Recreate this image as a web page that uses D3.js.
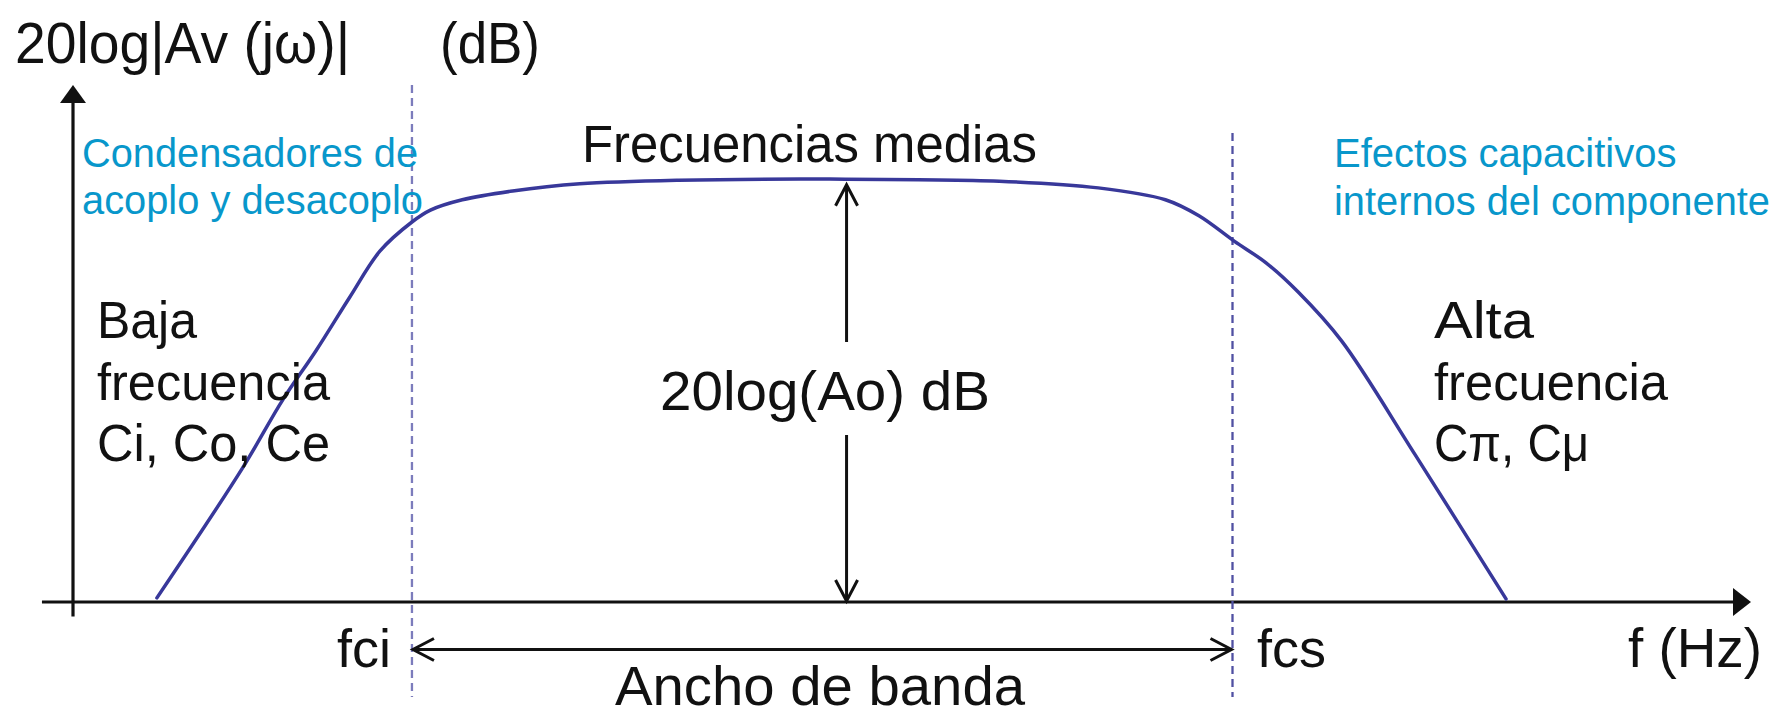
<!DOCTYPE html>
<html lang="es">
<head>
<meta charset="UTF-8">
<title>Respuesta en frecuencia de un amplificador</title>
<script src="https://d3js.org/d3.v7.min.js"></script>
<style>
  body { margin: 0; background: #fff; }
  text { font-family: "Liberation Sans", Arial, Helvetica, sans-serif; }
</style>
</head>
<body>
<script>

// size of the picture
var w = 1785;
var h = 718;

// Bode curve: log-frequency units (x) and gain units (y)
var freq = [0.50, 1.01, 1.25, 1.45, 1.65, 1.83, 2.02, 2.13, 2.32, 2.62, 3.02, 3.61, 4.51,
            5.52, 6.11, 6.51, 6.71, 6.92, 7.11, 7.30, 7.56, 8.00, 8.54];
var gain = [0.08, 2.59, 3.91, 4.87, 5.90, 6.79, 7.35, 7.58, 7.78, 7.95, 8.09, 8.16, 8.18,
            8.14, 8.01, 7.78, 7.47, 6.98, 6.56, 6.00, 5.05, 2.84, 0.06];

// cut-off frequencies
var cutoffFreq = [2.02, 6.91];
var cutoffLabels = ["fci", "fcs"];

// mid band arrow
var midFreq = 4.61;
var midGain = 8.07;

// labels
var yTitle = ["20log|Av (jω)|", "(dB)"];
var xTitle = "f (Hz)";
var lowLabel = ["Baja", "frecuencia", "Ci, Co, Ce"];
var highLabel = ["Alta", "frecuencia", "Cπ, Cμ"];
var lowNote = ["Condensadores de", "acoplo y desacoplo"];
var highNote = ["Efectos capacitivos", "internos del componente"];
var midLabel = "Frecuencias medias";
var gainLabel = "20log(Ao) dB";
var bandLabel = "Ancho de banda";

var xScale = d3.scaleLinear().domain([0, 10]).range([73, 1751]);
var yScale = d3.scaleLinear().domain([0, 10]).range([602, 85]);

var svg = d3.select("body")
    .append("svg")
    .attr("width", w)
    .attr("height", h);

svg.append("rect").attr("width", w).attr("height", h).attr("fill", "#fff");

var ink = "#111";
var blue = "#0897cb";
var curveColor = "#38389a";

//Axes
var x0 = xScale(0), y0 = yScale(0);
svg.append("line")
    .attr("x1", xScale(-0.185)).attr("y1", y0)
    .attr("x2", xScale(9.9)).attr("y2", y0)
    .attr("stroke", ink).attr("stroke-width", 3.2);
svg.append("path")
    .attr("d", d3.line()([[xScale(10), y0], [xScale(10) - 18, y0 - 14], [xScale(10) - 18, y0 + 14]]) + "Z")
    .attr("fill", ink);
svg.append("line")
    .attr("x1", x0).attr("y1", yScale(-0.28))
    .attr("x2", x0).attr("y2", yScale(9.8))
    .attr("stroke", ink).attr("stroke-width", 3.2);
svg.append("path")
    .attr("d", d3.line()([[x0, yScale(10)], [x0 - 13, yScale(10) + 18], [x0 + 13, yScale(10) + 18]]) + "Z")
    .attr("fill", ink);

//Cut-off dashed lines
var dashTop = [85, 133];
var dashColor = ["#7c7cbc", "#5050a2"];
svg.selectAll("line.cut")
    .data(cutoffFreq)
    .enter()
    .append("line")
    .attr("class", "cut")
    .attr("x1", function(d) { return xScale(d); })
    .attr("x2", function(d) { return xScale(d); })
    .attr("y1", function(d, i) { return dashTop[i]; })
    .attr("y2", 697)
    .attr("stroke", function(d, i) { return dashColor[i]; })
    .attr("stroke-width", 2.3)
    .attr("stroke-dasharray", "8,5");

//Curve
var pts = freq.map(function(f, i) { return [f, gain[i]]; });
var line = d3.line()
    .x(function(d) { return xScale(d[0]); })
    .y(function(d) { return yScale(d[1]); })
    .curve(d3.curveCatmullRom.alpha(0.5));
svg.append("path")
    .datum(pts)
    .attr("d", line)
    .attr("fill", "none")
    .attr("stroke", curveColor)
    .attr("stroke-width", 3.5)
    .attr("stroke-linecap", "round");

//Open arrow heads
function chevron(x, y, dx, dy) {
    // dx,dy = unit direction the arrow points to
    var len = 21, half = 11;
    var bx = x - dx * len, by = y - dy * len;
    var px = -dy * half, py = dx * half;
    svg.append("path")
        .attr("d", d3.line()([[bx + px, by + py], [x, y], [bx - px, by - py]]))
        .attr("fill", "none")
        .attr("stroke", ink)
        .attr("stroke-width", 3);
}

// vertical gain arrow (with gap for the label)
var mx = xScale(midFreq);
svg.append("line").attr("x1", mx).attr("x2", mx)
    .attr("y1", yScale(midGain) + 1).attr("y2", 342)
    .attr("stroke", ink).attr("stroke-width", 3);
svg.append("line").attr("x1", mx).attr("x2", mx)
    .attr("y1", 435).attr("y2", y0 - 1)
    .attr("stroke", ink).attr("stroke-width", 3);
chevron(mx, yScale(midGain), 0, -1);
chevron(mx, y0 - 1, 0, 1);

// bandwidth arrow
var by = 649.5;
var bx1 = xScale(cutoffFreq[0]) + 1, bx2 = xScale(cutoffFreq[1]) - 1;
svg.append("line").attr("x1", bx1).attr("x2", bx2)
    .attr("y1", by).attr("y2", by)
    .attr("stroke", ink).attr("stroke-width", 3);
chevron(bx1, by, -1, 0);
chevron(bx2, by, 1, 0);

//Texts
function label(str, x, y, size, color, width) {
    var t = svg.append("text")
        .text(str)
        .attr("x", x)
        .attr("y", y)
        .attr("font-size", size + "px")
        .attr("fill", color);
    if (width) {
        t.attr("textLength", width).attr("lengthAdjust", "spacingAndGlyphs");
    }
    return t;
}

label(yTitle[0], 15, 63, 57, ink, 335);
label(yTitle[1], 440, 63, 57, ink, 100);

label(lowNote[0], 82, 167, 40, blue, 336);
label(lowNote[1], 82, 214, 40, blue, 341);
label(highNote[0], 1334, 167, 40, blue);
label(highNote[1], 1334, 215, 40, blue, 436);

label(midLabel, 582, 162, 51, ink, 455);

var rows = [338, 400, 461];
lowLabel.forEach(function(s, i) { label(s, 97, rows[i], 52, ink, [100, 233, 233][i]); });
highLabel.forEach(function(s, i) { label(s, 1434, rows[i], 52, ink, [100, 234, 155][i]); });

label(gainLabel, 660, 410, 56, ink, 330);

label(cutoffLabels[0], 337, 667, 54, ink, 54);
label(cutoffLabels[1], 1257, 667, 54, ink, 69);
label(xTitle, 1628, 667, 55, ink, 134);

label(bandLabel, 615, 705, 55, ink, 410);

</script>
</body>
</html>
